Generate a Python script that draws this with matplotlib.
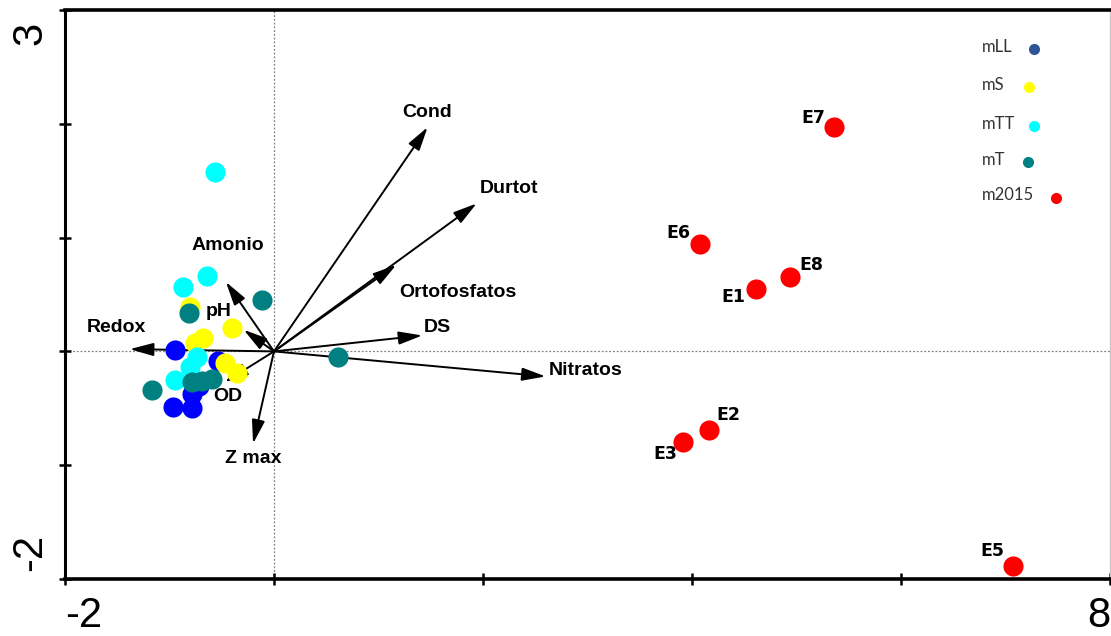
import matplotlib
matplotlib.use("Agg")
import matplotlib.pyplot as plt

# --- site scores per group ---
mLL_x = [-0.95, -0.54, -0.78, -0.97, -0.78, -0.72]
mLL_y = [0.01, -0.08, -0.37, -0.49, -0.50, -0.30]

mS_x = [-0.80, -0.40, -0.68, -0.76, -0.47, -0.35]
mS_y = [0.39, 0.21, 0.12, 0.07, -0.10, -0.19]

mTT_x = [-0.565, -0.87, -0.64, -0.74, -0.80, -0.95]
mTT_y = [1.58, 0.57, 0.66, -0.05, -0.14, -0.25]

mT_x = [-0.115, -0.81, -1.17, -0.78, -0.69, -0.59, 0.61]
mT_y = [0.45, 0.34, -0.34, -0.27, -0.26, -0.24, -0.05]

m2015_names = ["E7", "E6", "E1", "E8", "E2", "E3", "E5"]
m2015_x = [5.36, 4.08, 4.61, 4.94, 4.16, 3.91, 7.07]
m2015_y = [1.97, 0.94, 0.55, 0.65, -0.69, -0.80, -1.89]

# --- environmental variable vectors ---
var_names = ["Cond", "Durtot", "Ortofosfatos", "DS", "Nitratos",
             "Redox", "Amonio", "pH", "OD", "Z max"]
var_x = [1.47, 1.94, 1.17, 1.42, 2.60, -1.38, -0.46, -0.29, -0.47, -0.20]
var_y = [1.97, 1.30, 0.76, 0.14, -0.22, 0.02, 0.61, 0.19, -0.27, -0.81]
lab_x = [1.47, 2.25, 1.76, 1.56, 2.98, -1.51, -0.44, -0.53, -0.44, -0.20]
lab_y = [2.10, 1.43, 0.52, 0.21, -0.17, 0.21, 0.93, 0.355, -0.40, -0.94]

legend_labels = ["mLL", "mS", "mTT", "mT", "m2015"]
legend_colors = ["#2F5597", "#FFFF00", "#00FFFF", "#008080", "#FF0000"]

fig = plt.figure(figsize=(11.11, 6.36), dpi=100)
ax = fig.add_axes([0.0585, 0.0896, 0.9405, 0.8947])
ax.set_xlim(-2, 8)
ax.set_ylim(-2, 3)

# reference lines through the origin
ax.axhline(0, color="#808080", lw=0.9, ls=(0, (1.5, 1.5)), zorder=1)
ax.axvline(0, color="#808080", lw=0.9, ls=(0, (1.5, 1.5)), zorder=1)

# vectors
for vx, vy in zip(var_x, var_y):
    ax.annotate("", xy=(vx, vy), xytext=(0, 0),
                arrowprops=dict(arrowstyle="-|>,head_length=0.8,head_width=0.22",
                                color="black", lw=1.4, shrinkA=0, shrinkB=0,
                                mutation_scale=18),
                zorder=2)

# samples
s = 210
ax.scatter(mLL_x, mLL_y, s=s, c="#0000FF", lw=0, zorder=3)
ax.scatter(mS_x, mS_y, s=s, c="#FFFF00", lw=0, zorder=4)
ax.scatter(mTT_x, mTT_y, s=s, c="#00FFFF", lw=0, zorder=5)
ax.scatter(mT_x, mT_y, s=s, c="#008080", lw=0, zorder=6)
ax.scatter(m2015_x, m2015_y, s=s, c="#FF0000", lw=0, zorder=7)

# vector labels
for name, tx, ty in zip(var_names, lab_x, lab_y):
    ax.text(tx, ty, name, ha="center", va="center", fontsize=14,
            fontweight="bold", family="Liberation Sans", zorder=8)

# station labels
offsets = {"E7": (-15, 6.5), "E6": (-16, 8), "E8": (15, 8.6), "E1": (-16, -6),
           "E2": (14.5, 10.8), "E3": (-12.5, -8.6), "E5": (-14.5, 11.5)}
for name, px, py in zip(m2015_names, m2015_x, m2015_y):
    ax.annotate(name, xy=(px, py), xytext=offsets[name], textcoords="offset points",
                ha="center", va="center", fontsize=12.5, fontweight="bold",
                family="DejaVu Sans", zorder=8)

# legend drawn as text + dot
leg_y = [0.931, 0.865, 0.796, 0.733, 0.670]
dot_x = [0.927, 0.9225, 0.927, 0.9215, 0.948]
for lab, col, yy, dx in zip(legend_labels, legend_colors, leg_y, dot_x):
    ax.text(0.8775, yy + 0.004, lab, transform=ax.transAxes, ha="left", va="center",
            fontsize=12, color="#333333", family="Lato")
    ax.plot([dx], [yy], marker="o", ms=8, color=col, mec="none",
            transform=ax.transAxes, clip_on=False)

# axes frame
for side in ["top", "bottom", "left"]:
    ax.spines[side].set_color("black")
ax.spines["top"].set_linewidth(2.6)
ax.spines["bottom"].set_linewidth(2.6)
ax.spines["left"].set_linewidth(2.2)
ax.spines["right"].set_color("#c8c8c8")
ax.spines["right"].set_linewidth(1.0)

ax.set_xticks([-2, 0, 2, 4, 6, 8])
ax.set_yticks([-2, -1, 0, 1, 2, 3])
ax.set_xticklabels([])
ax.set_yticklabels([])
ax.tick_params(direction="inout", length=9, width=1.8, color="black")

# end-value labels
ax.text(0.0, -0.03, "-2", transform=ax.transAxes, ha="left", va="top",
        fontsize=30, family="Liberation Sans")
ax.text(1.0, -0.03, "8", transform=ax.transAxes, ha="right", va="top",
        fontsize=30, family="Liberation Sans")
ax.text(-0.033, 0.958, "3", transform=ax.transAxes, ha="center", va="center",
        fontsize=30, rotation=90, family="Liberation Sans")
ax.text(-0.033, 0.047, "-2", transform=ax.transAxes, ha="center", va="center",
        fontsize=30, rotation=90, family="Liberation Sans")

fig.savefig("out.png", dpi=100)
